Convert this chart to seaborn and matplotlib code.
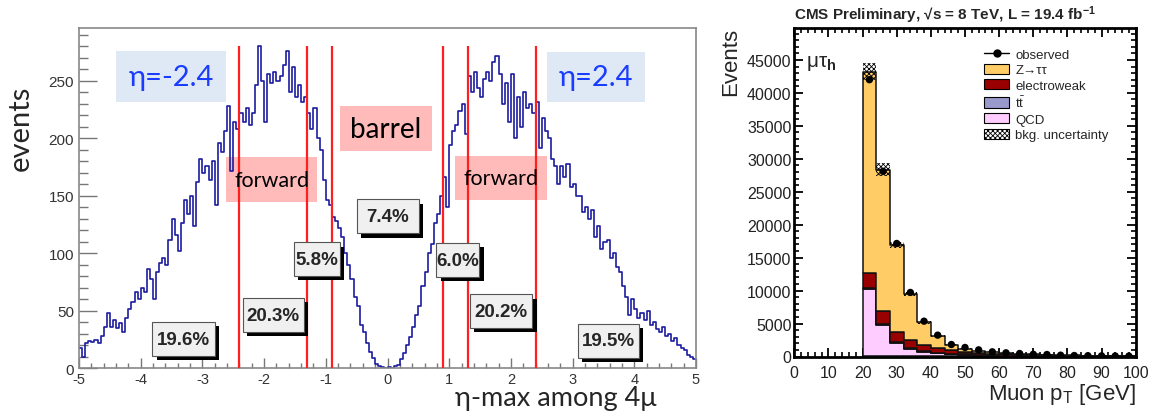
import numpy as np
import pandas as pd
import seaborn as sns
import matplotlib.pyplot as plt
from matplotlib.patches import Rectangle, Patch
from matplotlib.lines import Line2D
from matplotlib.ticker import MultipleLocator

# ---- left panel: eta-max among the 4 muons (0.05 wide bins, -5 .. 5)
eta_edges = np.linspace(-5.0, 5.0, 201)
eta_counts = [
    18, 10, 22, 24, 23, 25, 22, 28, 36, 48, 36, 42, 35, 39, 32, 44, 52, 58, 66, 60,
    70, 66, 86, 78, 60, 84, 92, 96, 90, 112, 130, 116, 102, 126, 146, 134, 150, 124, 162, 182,
    170, 176, 164, 180, 142, 196, 188, 206, 228, 172, 214, 208, 222, 214, 226, 212, 222, 246, 280, 250,
    214, 256, 248, 258, 250, 254, 264, 276, 240, 262, 236, 246, 232, 236, 222, 208, 226, 200, 190, 164,
    146, 142, 132, 128, 122, 114, 100, 90, 78, 62, 54, 38, 32, 22, 14, 9, 4, 2, 1, 0,
    1, 0, 2, 3, 8, 13, 20, 27, 36, 46, 54, 72, 84, 100, 108, 126, 134, 150, 166, 140,
    194, 206, 212, 224, 230, 204, 254, 240, 258, 244, 236, 252, 258, 250, 266, 272, 256, 230, 248, 214,
    256, 200, 236, 210, 240, 226, 230, 222, 232, 192, 218, 206, 200, 182, 176, 160, 176, 166, 178, 158,
    160, 150, 150, 136, 140, 130, 138, 114, 124, 104, 110, 112, 96, 100, 88, 84, 72, 62, 46, 60,
    52, 44, 48, 42, 50, 38, 40, 34, 32, 36, 28, 30, 24, 26, 20, 18, 16, 12, 10, 8,
]
eta_cuts = [-2.4, -1.3, -0.9, 0.9, 1.3, 2.4]
region_labels = ["19.6%", "20.3%", "5.8%", "7.4%", "6.0%", "20.2%", "19.5%"]

# ---- right panel: muon pT, 4 GeV bins from 20 to 100
pt_edges = np.arange(20, 101, 4)
processes = ["Z→ττ", "electroweak", "t$\\bar{\\mathrm{t}}$", "QCD"]
ztt = [30550, 21420, 13100, 6970, 3440, 1770, 760, 500, 300, 190, 145, 120, 90, 85, 60, 50, 42, 38, 30, 27]
ewk = [2180, 2030, 1540, 1200, 910, 770, 580, 390, 350, 290, 230, 180, 140, 110, 90, 70, 55, 45, 38, 30]
ttbar = [150, 140, 130, 120, 100, 90, 80, 70, 60, 50, 45, 40, 35, 30, 25, 20, 18, 15, 12, 10]
qcd = [10300, 4750, 2120, 1210, 710, 500, 350, 250, 150, 110, 80, 60, 45, 35, 25, 20, 15, 12, 10, 8]
bkg_unc = [1300, 950, 500, 280, 160, 100, 60, 40, 30, 22, 18, 14, 11, 9, 8, 6, 5, 4, 4, 3]
observed = [42000, 28100, 17150, 9720, 5360, 3240, 1820, 1370, 1010, 710, 560, 455, 340, 300, 200, 150, 120, 100, 80, 70]

sns.set_theme(style="white")
plt.rcParams['font.family'] = ['Liberation Sans', 'DejaVu Sans']
plt.rcParams['axes.unicode_minus'] = False
plt.rcParams['mathtext.fontset'] = 'custom'
plt.rcParams['mathtext.rm'] = 'Liberation Sans'
plt.rcParams['mathtext.it'] = 'Liberation Sans:italic'
plt.rcParams['mathtext.bf'] = 'Liberation Sans:bold'
plt.rcParams['hatch.linewidth'] = 0.6
slide_font = ['Lato', 'DejaVu Sans']

fig = plt.figure(figsize=(11.55, 4.14), dpi=100)
W, H = 1155, 414
ax1 = fig.add_axes([79 / W, 1 - 369.3 / H, 617 / W, 340.3 / H])
ax2 = fig.add_axes([794.3 / W, 1 - 357.5 / H, 341.4 / W, 328.2 / H])

# ---------------- left panel
eta_df = pd.DataFrame({"eta": (eta_edges[:-1] + eta_edges[1:]) / 2, "n": eta_counts})
sns.histplot(data=eta_df, x="eta", weights="n", bins=eta_edges.tolist(), element="step", fill=False,
             color="#1b1ba0", linewidth=1.2, ax=ax1, zorder=2)
ax1.vlines(eta_cuts, 0, 280, color="#ff1f1f", linewidth=1.6, zorder=3)
ax1.set_xlim(-5, 5)
ax1.set_ylim(0, 296)
ax1.set_xlabel("")
ax1.set_ylabel("")
ax1.xaxis.set_major_locator(MultipleLocator(1))
ax1.xaxis.set_minor_locator(MultipleLocator(0.2))
ax1.yaxis.set_major_locator(MultipleLocator(50))
ax1.yaxis.set_minor_locator(MultipleLocator(10))
ax1.tick_params(axis='y', which='major', direction='in', length=13, width=1, color='#777',
                labelsize=11, labelcolor='#333', pad=3.5, left=True)
ax1.tick_params(axis='y', which='minor', direction='in', length=6.5, width=1, color='#777', left=True)
ax1.tick_params(axis='x', which='major', direction='in', length=7, width=1, color='#777',
                labelsize=10.5, labelcolor='#333', pad=2.5, bottom=True)
ax1.tick_params(axis='x', which='minor', direction='in', length=3.6, width=1, color='#777', bottom=True)
for s in ax1.spines.values():
    s.set_color('#888')
    s.set_linewidth(1.2)

# slide overlays
overlays = [
    ((-4.40, 231.5), 1.78, 44.5, "#dfe9f5", "η=-2.4", "#1a3cff", 21),
    ((2.58, 231.5), 1.59, 43.5, "#dfe9f5", "η=2.4", "#1a3cff", 21),
    ((-0.77, 189), 1.49, 39, "#ffbaba", "barrel", "black", 20),
    ((-2.61, 144.5), 1.46, 39, "#ffbaba", "forward", "black", 15.5),
    ((1.10, 146), 1.48, 39, "#ffbaba", "forward", "black", 15.5),
]
for (x0, y0), w, h, fc, txt, tc, fs in overlays:
    ax1.add_patch(Rectangle((x0, y0), w, h, facecolor=fc, edgecolor='none', zorder=1))
    ax1.text(x0 + w / 2, y0 + h / 2, txt, color=tc, fontsize=fs, family=slide_font,
             ha='center', va='center', zorder=6)

# percentage boxes with shadow
pct_boxes = [(-3.81, 10.7), (-2.35, 31.6), (-1.52, 80.2), (-0.50, 117.4),
             (0.79, 79.4), (1.34, 35.0), (3.08, 9.0)]
pct_widths = [1.01, 0.99, 0.75, 1.01, 0.70, 1.01, 0.99]
for (x0, y0), w, lab in zip(pct_boxes, pct_widths, region_labels):
    h = 29.5
    ax1.add_patch(Rectangle((x0 + 0.07, y0 - 3.8), w, h, facecolor='black', edgecolor='none', zorder=4))
    ax1.add_patch(Rectangle((x0, y0), w, h, facecolor='#f0f0f0', edgecolor='#555', linewidth=0.8, zorder=5))
    ax1.text(x0 + w / 2, y0 + h / 2, lab, fontsize=13.5, fontweight='bold', ha='center', va='center', zorder=6)

fig.text(21 / W, 1 - 128 / H, "events", rotation=90, fontsize=21, family=slide_font, ha='center', va='center')
fig.text(556 / W, 1 - 399 / H, "η-max among 4μ", fontsize=19.5, family=slide_font, ha='center', va='center')

# ---------------- right panel
pt_centers = pt_edges[:-1] + 2
df = pd.DataFrame({
    "pt": np.tile(pt_centers, 4),
    "n": np.concatenate([ztt, ewk, ttbar, qcd]),
    "process": np.repeat(processes, len(pt_centers)),
})
colors = {"Z→ττ": "#ffcc66", "electroweak": "#990000", "t$\\bar{\\mathrm{t}}$": "#9999cc", "QCD": "#ffccff"}
sns.histplot(data=df, x="pt", weights="n", hue="process", hue_order=processes, multiple="stack",
             bins=pt_edges.tolist(), element="step", palette=colors, alpha=1, edgecolor="#111", linewidth=1.1,
             legend=False, ax=ax2)

total = np.array(ztt) + np.array(ewk) + np.array(ttbar) + np.array(qcd)
unc = np.array(bkg_unc)
ax2.bar(pt_centers, 2 * unc, bottom=total - unc, width=4, fill=False, hatch='xxxxxxx',
        edgecolor='black', linewidth=0, zorder=4)
sns.scatterplot(x=pt_centers, y=observed, color='black', s=28, edgecolor='none', ax=ax2, zorder=5)

ax2.set_xlim(0, 100)
ax2.set_ylim(0, 49800)
ax2.set_xlabel("")
ax2.set_ylabel("")
ax2.xaxis.set_major_locator(MultipleLocator(10))
ax2.xaxis.set_minor_locator(MultipleLocator(2))
ax2.yaxis.set_major_locator(MultipleLocator(5000))
ax2.yaxis.set_minor_locator(MultipleLocator(1000))
ax2.tick_params(which='major', direction='in', length=6.5, width=1.3, color='black',
                top=True, right=True, bottom=True, left=True, labelsize=11.5, labelcolor='#222')
ax2.tick_params(which='minor', direction='in', length=3.3, width=1.2, color='black',
                top=True, right=True, bottom=True, left=True)
ax2.tick_params(axis='x', pad=6)
ax2.tick_params(axis='y', pad=2)
for s in ax2.spines.values():
    s.set_color('black')
    s.set_linewidth(2)

ax2.text(0.035, 0.925, "μτ$_{\\mathbf{h}}$", transform=ax2.transAxes, fontsize=15, ha='left', va='top')

handles = [
    Line2D([], [], color='black', marker='o', markersize=5, linewidth=1),
    Patch(facecolor="#ffcc66", edgecolor='black', linewidth=0.8),
    Patch(facecolor="#990000", edgecolor='black', linewidth=0.8),
    Patch(facecolor="#9999cc", edgecolor='black', linewidth=0.8),
    Patch(facecolor="#ffccff", edgecolor='black', linewidth=0.8),
    Patch(facecolor='white', edgecolor='black', hatch='xxxxxxx', linewidth=0.8),
]
labels = ["observed"] + processes + ["bkg. uncertainty"]
ax2.legend(handles, labels, loc='upper left', bbox_to_anchor=(0.556, 0.94), frameon=False,
           fontsize=9.5, handlelength=1.9, handleheight=0.8, labelspacing=0.22,
           handletextpad=0.45, borderpad=0, borderaxespad=0)

fig.text(794 / W, 1 - 15 / H, "CMS Preliminary, √s = 8 TeV, L = 19.4 fb$^{\\mathbf{-1}}$",
         fontsize=11, fontweight='bold', ha='left', va='center')
fig.text(731 / W, 1 - 28 / H, "Events", rotation=90, fontsize=16, ha='center', va='top')
fig.text(1136 / W, 1 - 395 / H, "Muon p$_{\\mathrm{T}}$ [GeV]", fontsize=16, ha='right', va='center')

fig.savefig("out.png", dpi=100)
